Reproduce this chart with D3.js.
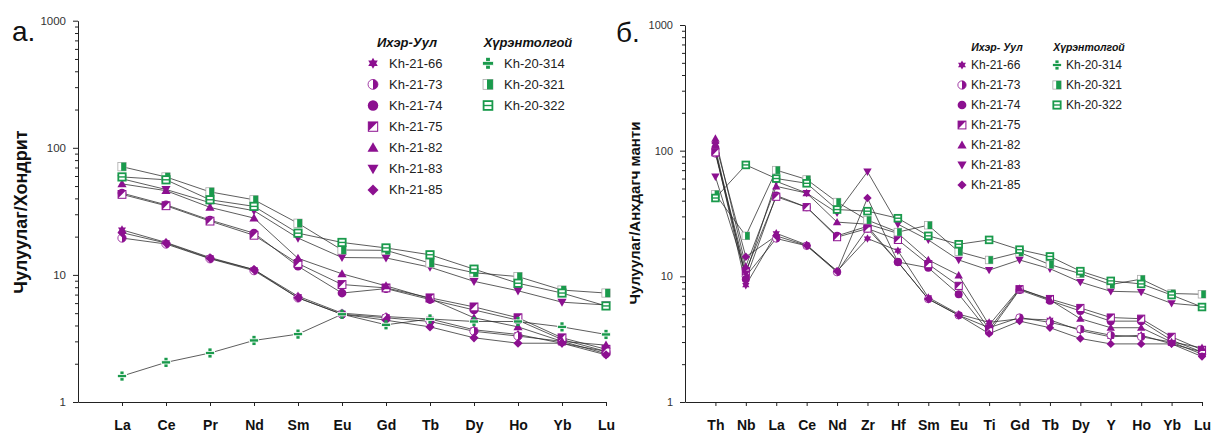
<!DOCTYPE html>
<html>
<head>
<meta charset="utf-8">
<script src="https://cdn.jsdelivr.net/npm/d3@7"></script>
<style>
body { margin: 0; background: #fff; }
svg { display: block; font-family: Arial, "Liberation Sans", sans-serif; }
</style>
</head>
<body>
<svg id="chart" width="1214" height="434"></svg>
<script>
// element lists
var reeElements = ["La", "Ce", "Pr", "Nd", "Sm", "Eu", "Gd", "Tb", "Dy", "Ho", "Yb", "Lu"];
var spiderElements = ["Th", "Nb", "La", "Ce", "Nd", "Zr", "Hf", "Sm", "Eu", "Ti", "Gd", "Tb", "Dy", "Y", "Ho", "Yb", "Lu"];

var sampleNames = ["Kh-21-66", "Kh-21-73", "Kh-21-74", "Kh-21-75", "Kh-21-82", "Kh-21-83", "Kh-21-85",
                   "Kh-20-314", "Kh-20-321", "Kh-20-322"];
var sampleGroup = ["ih", "ih", "ih", "ih", "ih", "ih", "ih", "hu", "hu", "hu"];

// chondrite normalised (panel a)
var reeValues = [
    [22.6, 18, 13.7, 11, 6.8, 5.0, 4.7, 4.5, 3.7, 3.4, 2.9, 2.5],
    [19.5, 17.5, 13.4, 10.8, 6.6, 4.9, 4.6, 4.3, 3.6, 3.3, 3.0, 2.4],
    [44, 35.6, 27, 21.3, 11.7, 7.2, 7.8, 6.4, 5.3, 4.4, 3.1, 2.5],
    [43, 35, 26.5, 20.5, 12.3, 8.4, 7.9, 6.6, 5.6, 4.6, 3.2, 2.6],
    [52, 46, 34, 28, 13.5, 10.2, 8.2, 6.5, 4.6, 3.9, 3.0, 2.8],
    [57, 47, 37, 32, 19.5, 13.7, 13.6, 11.5, 8.9, 7.5, 6.1, 5.8],
    [21.5, 17.8, 13.5, 11, 6.6, 4.9, 4.4, 3.9, 3.2, 2.9, 2.9, 2.35],
    [1.6, 2.05, 2.43, 3.05, 3.42, 4.9, 4.05, 4.5, 4.3, 4.3, 3.9, 3.4],
    [71, 59, 45, 39, 25.5, 15.7, 15.6, 12.4, 10.4, 9.7, 7.6, 7.2],
    [59, 56, 39, 34.6, 21.3, 18, 16.3, 14.4, 11.1, 8.6, 7.2, 5.7]
];

// primitive mantle normalised (panel b), Kh-20-314 not plotted
var spiderValues = [
    [100, 8.5, 22, 17.8, 11, 20, 16, 6.8, 5.0, 4.3, 4.6, 4.5, 3.7, 3.3, 3.4, 2.9, 2.5],
    [95, 10, 20, 17.5, 10.8, 24, 13, 6.6, 4.9, 3.9, 4.7, 4.3, 3.8, 3.4, 3.3, 3.0, 2.4],
    [105, 9.5, 44, 35.5, 21, 25, 13, 11.7, 7.2, 3.6, 7.8, 6.4, 5.3, 4.4, 4.4, 3.1, 2.5],
    [97, 11, 43, 35.5, 20.5, 24, 19.5, 12.5, 8.4, 3.8, 7.9, 6.6, 5.6, 4.7, 4.6, 3.3, 2.6],
    [125, 12, 52, 46, 27, 26, 22, 13.5, 10.2, 4.1, 8, 6.5, 4.6, 3.9, 3.9, 3.0, 2.7],
    [62, 10.5, 57, 46, 32, 68, 26, 19.5, 13.5, 11.2, 13.5, 11.5, 9, 7.6, 7.5, 6.1, 5.8],
    [115, 14.3, 21, 17.6, 11, 42, 13, 6.6, 4.9, 3.5, 4.4, 3.9, 3.2, 2.9, 2.9, 2.9, 2.3],
    null,
    [45, 21, 70, 59, 39, 28, 22.5, 25.5, 15.7, 13.5, 15.5, 12.4, 10.5, 8.6, 9.5, 7.3, 7.2],
    [42, 77, 60, 55, 34, 33, 29, 21, 18, 19.5, 16.3, 14.4, 11, 9.2, 8.7, 7.1, 5.7]
];

var yTicks = [1, 10, 100, 1000];

var PURPLE = "#8c1090";
var GREEN = "#1a9a4c";
var shapes = ["hexagram", "halfCircle", "circle", "flagSquare", "triUp", "triDown", "diamond",
              "divide", "halfSquare", "barSquare"];

var svg = d3.select("#chart");

function addMarker(g, shape, r) {
    var s;
    switch (shape) {
        case "hexagram":
            var h = r * 0.5, w = r * 0.866;
            // both triangles with the same winding so the overlap stays filled
            g.append("path")
                .attr("d", "M0," + (-r) + "L" + w + "," + h + "L" + (-w) + "," + h + "Z" +
                           "M0," + r + "L" + (-w) + "," + (-h) + "L" + w + "," + (-h) + "Z")
                .attr("fill", PURPLE);
            break;
        case "halfCircle":
            s = r * 0.9;
            g.append("circle").attr("r", s).attr("fill", "#fff").attr("stroke", PURPLE).attr("stroke-width", 0.8);
            g.append("path").attr("d", "M0," + (-s) + "A" + s + "," + s + " 0 0 1 0," + s + "Z").attr("fill", PURPLE);
            break;
        case "circle":
            g.append("circle").attr("r", r * 0.95).attr("fill", PURPLE);
            break;
        case "flagSquare":
            s = r * 0.85;
            g.append("rect").attr("x", -s).attr("y", -s).attr("width", 2 * s).attr("height", 2 * s)
                .attr("fill", "#fff").attr("stroke", PURPLE).attr("stroke-width", 1);
            g.append("path").attr("d", "M" + (-s) + "," + (-s) + "L" + s + "," + (-s) + "L" + (-s) + "," + s + "Z")
                .attr("fill", PURPLE);
            break;
        case "triUp":
            g.append("path").attr("d", "M0," + (-r) + "L" + r + "," + (r * 0.75) + "L" + (-r) + "," + (r * 0.75) + "Z")
                .attr("fill", PURPLE);
            break;
        case "triDown":
            g.append("path").attr("d", "M0," + r + "L" + r + "," + (-r * 0.75) + "L" + (-r) + "," + (-r * 0.75) + "Z")
                .attr("fill", PURPLE);
            break;
        case "diamond":
            g.append("path").attr("d", "M0," + (-r) + "L" + r + ",0L0," + r + "L" + (-r) + ",0Z")
                .attr("fill", PURPLE);
            break;
        case "divide":
            g.append("rect").attr("x", -r * 0.35).attr("y", -r).attr("width", r * 0.7).attr("height", 2 * r)
                .attr("fill", GREEN);
            g.append("rect").attr("x", -r).attr("y", -r * 0.35).attr("width", 2 * r).attr("height", r * 0.7)
                .attr("fill", GREEN).attr("stroke", "#fff").attr("stroke-width", 0.8);
            break;
        case "halfSquare":
            s = r * 0.9;
            g.append("rect").attr("x", -s).attr("y", -s).attr("width", 2 * s).attr("height", 2 * s)
                .attr("fill", "#fff").attr("stroke", "#aaa").attr("stroke-width", 0.8);
            g.append("rect").attr("x", -s * 0.2).attr("y", -s).attr("width", s * 1.2).attr("height", 2 * s)
                .attr("fill", GREEN);
            break;
        case "barSquare":
            s = r * 0.8;
            g.append("rect").attr("x", -s).attr("y", -s).attr("width", 2 * s).attr("height", 2 * s)
                .attr("fill", "#fff").attr("stroke", GREEN).attr("stroke-width", 1.8);
            g.append("line").attr("x1", -s).attr("x2", s).attr("y1", 0).attr("y2", 0)
                .attr("stroke", GREEN).attr("stroke-width", 1.4);
            break;
    }
}

function drawPanel(cfg) {
    var n = cfg.elements.length;
    var x = d3.scaleLinear().domain([0, n]).range([cfg.left, cfg.right]);
    var y = d3.scaleLog().domain([1, 1000]).range([cfg.bottom, cfg.top]);

    var g = svg.append("g");

    // minor y ticks
    var minor = [];
    [1, 10, 100].forEach(function(d){
        for (var k = 2; k <= 9; k++) minor.push(d * k);
    });
    var yMinor = g.append("g")
        .attr("transform", "translate(" + cfg.left + ",0)")
        .call(d3.axisLeft(y).tickValues(minor).tickSize(3).tickFormat(""));
    yMinor.select(".domain").remove();

    var yAxis = g.append("g")
        .attr("transform", "translate(" + cfg.left + ",0)")
        .call(d3.axisLeft(y).tickValues(yTicks).tickSize(5).tickSizeOuter(0).tickPadding(7)
            .tickFormat(d3.format("d")));
    yAxis.selectAll("text").attr("font-size", cfg.tickFont).attr("fill", "#333").attr("font-family", "Arial, 'Liberation Sans', sans-serif");

    var xAxis = g.append("g")
        .attr("transform", "translate(0," + cfg.bottom + ")")
        .call(d3.axisBottom(x).tickValues(d3.range(1, n + 1)).tickSize(4).tickSizeOuter(0).tickPadding(14)
            .tickFormat(function(i){ return cfg.elements[i - 1]; }));
    xAxis.selectAll("text").attr("font-size", 14).attr("font-weight", "bold").attr("fill", "#111")
        .attr("font-family", "Arial, 'Liberation Sans', sans-serif");

    [yMinor, yAxis, xAxis].forEach(function(a){
        a.selectAll("line").attr("stroke", "#222");
        a.selectAll(".domain").attr("stroke", "#222");
    });

    // series
    var line = d3.line()
        .x(function(d, i){ return x(i + 1); })
        .y(function(d){ return y(d); });

    cfg.values.forEach(function(vals, si){
        if (!vals) return;
        g.append("path")
            .attr("d", line(vals))
            .attr("fill", "none")
            .attr("stroke", "#2a2a2a")
            .attr("stroke-opacity", 0.85)
            .attr("stroke-width", 0.9);
    });
    cfg.values.forEach(function(vals, si){
        if (!vals) return;
        vals.forEach(function(v, i){
            var m = g.append("g").attr("transform", "translate(" + x(i + 1) + "," + y(v) + ")");
            addMarker(m, shapes[si], cfg.markerR);
        });
    });

    // panel letter and axis title
    svg.append("text").attr("x", cfg.letterX).attr("y", cfg.letterY)
        .attr("font-size", 28).attr("fill", "#111").text(cfg.letter);
    svg.append("text")
        .attr("transform", "translate(" + cfg.titleX + "," + cfg.titleY + ") rotate(-90)")
        .attr("text-anchor", "middle")
        .attr("font-size", cfg.titleFont).attr("font-weight", "bold").attr("fill", "#111")
        .text(cfg.title);

    // legend
    var L = cfg.legend;
    [["ih", L.ihX, L.ihHeader, L.ihHeadX], ["hu", L.huX, L.huHeader, L.huHeadX]].forEach(function(col){
        svg.append("text").attr("x", col[3]).attr("y", L.headY)
            .attr("text-anchor", "middle").attr("dy", "0.35em")
            .attr("font-size", L.headFont).attr("font-weight", "bold").attr("font-style", "italic")
            .attr("fill", "#111").text(col[2]);
        var row = 0;
        sampleNames.forEach(function(name, si){
            if (sampleGroup[si] !== col[0]) return;
            var yy = L.rowY + row * L.rowStep;
            var m = svg.append("g").attr("transform", "translate(" + col[1] + "," + yy + ")");
            addMarker(m, shapes[si], L.markerR);
            svg.append("text").attr("x", col[1] + L.textGap).attr("y", yy).attr("dy", "0.35em")
                .attr("font-size", L.font).attr("fill", "#222").text(name);
            row++;
        });
    });
}

drawPanel({
    elements: reeElements, values: reeValues,
    left: 78, right: 606, top: 20.7, bottom: 402,
    tickFont: 11.5, markerR: 4.6,
    letter: "а.", letterX: 12, letterY: 41,
    title: "Чулуулаг/Хондрит", titleX: 27, titleY: 212, titleFont: 18,
    legend: {
        ihX: 373, huX: 488, ihHeadX: 407, huHeadX: 528,
        ihHeader: "Ихэр-Уул", huHeader: "Хүрэнтолгой",
        headY: 42, headFont: 13, rowY: 63.3, rowStep: 21.1,
        markerR: 5.5, textGap: 16, font: 13
    }
});

drawPanel({
    elements: spiderElements, values: spiderValues,
    left: 685, right: 1202, top: 25, bottom: 402,
    tickFont: 11, markerR: 4.2,
    letter: "б.", letterX: 616, letterY: 42,
    title: "Чулуулаг/Анхдагч манти", titleX: 640, titleY: 213, titleFont: 15,
    legend: {
        ihX: 962, huX: 1057, ihHeadX: 997, huHeadX: 1089,
        ihHeader: "Ихэр- Уул", huHeader: "Хүрэнтолгой",
        headY: 47, headFont: 10.5, rowY: 65, rowStep: 20,
        markerR: 4.6, textGap: 9, font: 12
    }
});
</script>
</body>
</html>
